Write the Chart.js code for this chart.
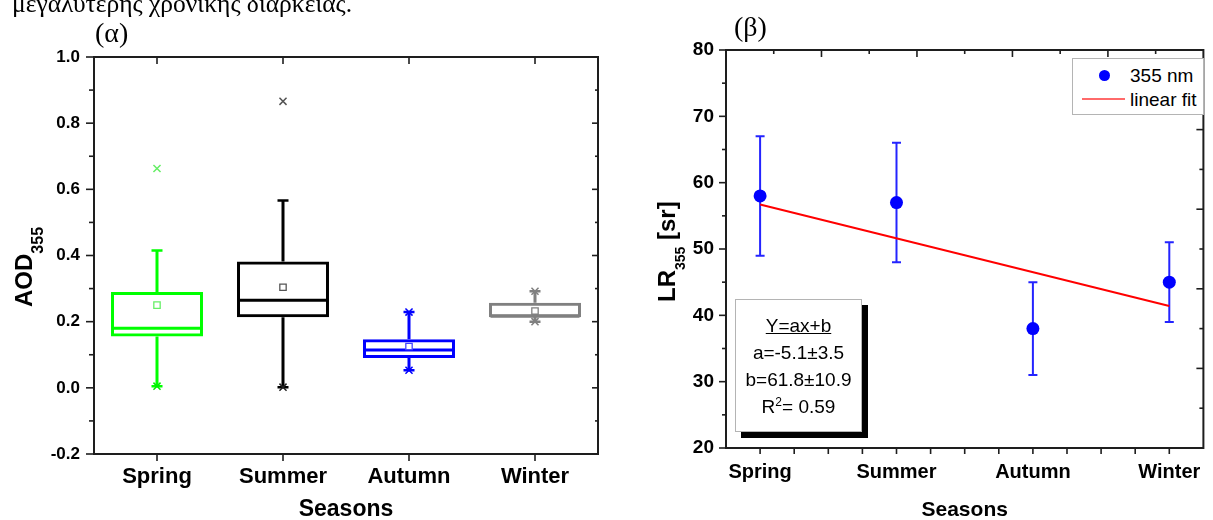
<!DOCTYPE html>
<html lang="el">
<head>
<meta charset="UTF-8">
<title>AOD355 and LR355 by season</title>
<script src="https://cdn.jsdelivr.net/npm/chart.js@4.4.1/dist/chart.umd.min.js"></script>
<style>
  html, body { margin: 0; padding: 0; background: #fff; }
  body { width: 1213px; height: 520px; position: relative; overflow: hidden;
         font-family: 'Liberation Sans', Arial, sans-serif; color: #000; }
  .abs { position: absolute; white-space: nowrap; line-height: 1; }
  .serif { font-family: 'Liberation Serif', 'Times New Roman', serif; }
  .ytitle { font-weight: bold; font-size: 24px; transform-origin: 0 0; transform: rotate(-90deg); }
  #boxWrap { position: absolute; left: 0; top: 0; width: 620px; height: 520px; }
  #lrWrap { position: absolute; left: 620px; top: 0; width: 593px; height: 520px; }
  #fitBox { position: absolute; left: 735px; top: 299px; width: 127px; height: 133px; box-sizing: border-box;
            border: 1px solid #b4b4b4; background: #fff; box-shadow: 6px 6px 0 #000;
            font-size: 19px; line-height: 27px; text-align: center; padding-top: 12px; }
  #fitBox sup { font-size: 12px; line-height: 0; vertical-align: 7px; }
  #legendBox { position: absolute; left: 1072px; top: 58px; width: 132px; height: 57px; box-sizing: border-box;
               border: 1px solid #b4b4b4; background: #fff; }
</style>
</head>
<body>
    <div id="boxWrap"><canvas id="boxChart"></canvas></div>
    <div id="lrWrap"><canvas id="lrChart"></canvas></div>

    <!-- captions -->
    <div class="abs serif" style="left:12px; top:-9.5px; font-size:25.5px;">μεγαλύτερης χρονικής διάρκειας.</div>
    <div class="abs serif" style="left:95px; top:18.5px; font-size:28px;">(α)</div>
    <div class="abs serif" style="left:734px; top:13px; font-size:28px;">(β)</div>

    <!-- y axis titles (subscripts) -->
    <div class="abs ytitle" style="left:11.7px; top:307px;">AOD<span style="font-size:16px; vertical-align:-11px;">355</span></div>
    <div class="abs ytitle" style="left:654.7px; top:302px;">LR<span style="font-size:14px; vertical-align:-10px;">355</span> [sr]</div>

    <!-- fit parameters -->
    <div id="fitBox">
        <div><u>Y=ax+b</u></div>
        <div>a=-5.1±3.5</div>
        <div>b=61.8±10.9</div>
        <div>R<sup>2</sup>= 0.59</div>
    </div>

    <!-- legend -->
    <div id="legendBox"></div>
    <span class="abs" style="left:1098.5px; top:69.5px; width:11px; height:11px; border-radius:50%; background:#0000ff;"></span>
    <div class="abs" style="left:1130px; top:65.6px; font-size:19px;">355 nm</div>
    <span class="abs" style="left:1082px; top:98px; width:43px; height:2px; background:#ff6a6a;"></span>
    <div class="abs" style="left:1130px; top:90px; font-size:19px;">linear fit</div>

    <script>
        const seasons = ['Spring', 'Summer', 'Autumn', 'Winter'];

        // (α) AOD355 box plot
        const aodQ1 = [0.155, 0.213, 0.090, 0.213];
        const aodMedian = [0.180, 0.265, 0.114, 0.216];
        const aodQ3 = [0.290, 0.382, 0.147, 0.257];
        const aodMean = [0.250, 0.304, 0.125, 0.232];
        const aodWhiskLow = [0.005, 0.002, 0.053, 0.200];
        const aodWhiskHigh = [0.415, 0.566, 0.229, 0.292];
        const aodCrossSeason = ['Spring', 'Spring', 'Summer', 'Summer', 'Autumn', 'Autumn', 'Winter', 'Winter'];
        const aodCrossValue = [0.663, 0.005, 0.866, 0.002, 0.229, 0.053, 0.292, 0.200];
        const aodTicks = [-0.2, 0.0, 0.2, 0.4, 0.6, 0.8, 1.0];

        // (β) LR355 with error bars and linear fit
        const lrValue = [58, 57, 38, 45];
        const lrErrLow = [49, 48, 31, 39];
        const lrErrHigh = [67, 66, 45, 51];
        const fitX = [1, 4];
        const fitY = [56.7, 41.4];
        const lrTicks = [20, 30, 40, 50, 60, 70, 80];

        // styles
        const boxColors = ['#00ff00', '#000000', '#0000ff', '#808080'];
        const meanColors = ['#66ee66', '#555555', '#4444ff', '#808080'];
        const crossColors = ['#66ee66', '#00ee00', '#555555', '#222222', '#0000ff', '#0000ff', '#808080', '#808080'];

        Chart.defaults.font.family = "'Liberation Sans', Arial, sans-serif";
        Chart.defaults.color = '#000';

        const mid = arr => arr.slice(1).map((v, i) => (v + arr[i]) / 2);

        // frame round the plot area plus tick marks (in/out) through the scales
        const framePlugin = {
            id: 'frame',
            afterDraw(chart, args, opts) {
                const { ctx, chartArea: a } = chart;
                ctx.save();
                ctx.strokeStyle = '#1e1e1e';
                ctx.lineWidth = 2;
                ctx.strokeRect(a.left, a.top, a.right - a.left, a.bottom - a.top);
                ctx.lineWidth = 1.6;
                (opts.marks || []).forEach(m => {
                    const sc = chart.scales[m.scale];
                    m.values.forEach(v => {
                        const p = sc.getPixelForValue(v);
                        const len = typeof m.len === 'function' ? m.len(v) : m.len;
                        ctx.beginPath();
                        if (m.side === 'left') { ctx.moveTo(a.left, p); ctx.lineTo(a.left + m.dir * len, p); }
                        if (m.side === 'right') { ctx.moveTo(a.right, p); ctx.lineTo(a.right + m.dir * len, p); }
                        if (m.side === 'bottom') { ctx.moveTo(p, a.bottom); ctx.lineTo(p, a.bottom + m.dir * len); }
                        if (m.side === 'top') { ctx.moveTo(p, a.top); ctx.lineTo(p, a.top + m.dir * len); }
                        ctx.stroke();
                    });
                });
                ctx.restore();
            }
        };

        // whiskers, caps and medians, drawn right after the boxes
        const boxExtras = {
            id: 'boxExtras',
            afterDatasetDraw(chart, args) {
                if (args.index !== 0) return;
                const { ctx } = chart;
                const x = chart.scales.x, y = chart.scales.y;
                const half = chart.getDatasetMeta(0).data[0].width / 2;
                ctx.save();
                seasons.forEach((s, i) => {
                    const cx = x.getPixelForValue(i);
                    ctx.strokeStyle = boxColors[i];
                    ctx.lineWidth = 3;
                    ctx.beginPath();
                    ctx.moveTo(cx, y.getPixelForValue(aodQ3[i]));
                    ctx.lineTo(cx, y.getPixelForValue(aodWhiskHigh[i]));
                    ctx.moveTo(cx, y.getPixelForValue(aodQ1[i]));
                    ctx.lineTo(cx, y.getPixelForValue(aodWhiskLow[i]));
                    ctx.moveTo(cx - half + 1.5, y.getPixelForValue(aodMedian[i]));
                    ctx.lineTo(cx + half - 1.5, y.getPixelForValue(aodMedian[i]));
                    ctx.stroke();
                    ctx.lineWidth = 2.5;
                    ctx.beginPath();
                    [aodWhiskHigh[i], aodWhiskLow[i]].forEach(v => {
                        const py = y.getPixelForValue(v);
                        ctx.moveTo(cx - 5.5, py);
                        ctx.lineTo(cx + 5.5, py);
                    });
                    ctx.stroke();
                });
                ctx.restore();
            }
        };

        // vertical error bars for the LR points
        const errorBars = {
            id: 'errorBars',
            beforeDatasetsDraw(chart) {
                const { ctx } = chart;
                const x = chart.scales.x, y = chart.scales.y;
                ctx.save();
                ctx.strokeStyle = '#2424ff';
                ctx.lineWidth = 2;
                lrValue.forEach((v, i) => {
                    const cx = x.getPixelForValue(i + 1);
                    const lo = y.getPixelForValue(lrErrLow[i]);
                    const hi = y.getPixelForValue(lrErrHigh[i]);
                    ctx.beginPath();
                    ctx.moveTo(cx, lo); ctx.lineTo(cx, hi);
                    ctx.moveTo(cx - 4.5, lo); ctx.lineTo(cx + 4.5, lo);
                    ctx.moveTo(cx - 4.5, hi); ctx.lineTo(cx + 4.5, hi);
                    ctx.stroke();
                });
                ctx.restore();
            }
        };

        // (α) box plot
        new Chart(document.getElementById('boxChart'), {
            type: 'bar',
            data: {
                labels: seasons,
                datasets: [
                    {
                        type: 'bar',
                        data: seasons.map((s, i) => [aodQ1[i], aodQ3[i]]),
                        backgroundColor: 'rgba(0,0,0,0)',
                        borderColor: boxColors,
                        borderWidth: 3,
                        borderSkipped: false,
                        barPercentage: 0.73,
                        categoryPercentage: 1,
                        order: 2
                    },
                    {
                        type: 'line',
                        data: aodMean,
                        showLine: false,
                        pointStyle: 'rect',
                        pointRadius: 4.5,
                        pointBackgroundColor: '#fff',
                        pointBorderColor: meanColors,
                        pointBorderWidth: 1.3,
                        order: 1
                    },
                    {
                        type: 'line',
                        data: aodCrossSeason.map((s, i) => ({ x: s, y: aodCrossValue[i] })),
                        showLine: false,
                        pointStyle: 'crossRot',
                        pointRadius: 5,
                        pointBorderColor: crossColors,
                        pointBorderWidth: 1.5,
                        order: 0
                    }
                ]
            },
            options: {
                responsive: true,
                maintainAspectRatio: false,
                animation: false,
                layout: { padding: { top: 57, right: 22, left: 0, bottom: 0 } },
                plugins: {
                    legend: { display: false },
                    tooltip: { enabled: false },
                    frame: {
                        marks: [
                            { scale: 'y', side: 'left', dir: -1, len: 8, values: aodTicks },
                            { scale: 'y', side: 'left', dir: -1, len: 5, values: mid(aodTicks) },
                            { scale: 'y', side: 'right', dir: -1, len: 6, values: aodTicks },
                            { scale: 'y', side: 'right', dir: -1, len: 3, values: mid(aodTicks) },
                            { scale: 'x', side: 'bottom', dir: 1, len: 7, values: [0, 1, 2, 3] },
                            { scale: 'x', side: 'top', dir: 1, len: 7, values: [0, 1, 2, 3] }
                        ]
                    }
                },
                scales: {
                    x: {
                        grid: { display: false, drawTicks: false },
                        border: { display: false },
                        ticks: { font: { size: 22, weight: 'bold' }, padding: 10, maxRotation: 0 },
                        title: {
                            display: true, text: 'Seasons',
                            font: { size: 23, weight: 'bold', lineHeight: 1 },
                            padding: { top: 0, bottom: -1 }
                        },
                        afterFit: s => { s.height = 66; }
                    },
                    y: {
                        min: -0.2, max: 1.0,
                        afterBuildTicks: s => { s.ticks = aodTicks.map(v => ({ value: v })); },
                        grid: { display: false, drawTicks: false },
                        border: { display: false },
                        ticks: { callback: v => v.toFixed(1), font: { size: 17, weight: 'bold' }, padding: 14 },
                        afterFit: s => { s.width = 94; }
                    }
                }
            },
            plugins: [boxExtras, framePlugin]
        });

        // (β) LR355 scatter with error bars and fit
        new Chart(document.getElementById('lrChart'), {
            type: 'scatter',
            data: {
                datasets: [
                    {
                        label: '355 nm',
                        data: lrValue.map((v, i) => ({ x: i + 1, y: v })),
                        pointRadius: 6.5,
                        pointBackgroundColor: '#0000ff',
                        pointBorderWidth: 0,
                        order: 0
                    },
                    {
                        label: 'linear fit',
                        data: fitX.map((v, i) => ({ x: v, y: fitY[i] })),
                        showLine: true,
                        borderColor: '#ff0000',
                        borderWidth: 2,
                        pointRadius: 0,
                        order: 1
                    }
                ]
            },
            options: {
                responsive: true,
                maintainAspectRatio: false,
                animation: false,
                layout: { padding: { top: 50, right: 3, left: 0, bottom: 0 } },
                plugins: {
                    legend: { display: false },
                    tooltip: { enabled: false },
                    frame: {
                        marks: [
                            { scale: 'y', side: 'left', dir: -1, len: 7, values: lrTicks },
                            { scale: 'y', side: 'left', dir: -1, len: 4, values: mid(lrTicks) },
                            { scale: 'x', side: 'bottom', dir: 1, len: 6,
                              values: [1, 1.25, 1.5, 1.75, 2, 2.25, 2.5, 2.75, 3, 3.25, 3.5, 3.75, 4] },
                            { scale: 'x2', side: 'top', dir: 1, len: v => (v % 2 === 0 ? 7 : 4),
                              values: [1, 2, 3, 4, 5, 6, 7, 8, 9] },
                            { scale: 'y2', side: 'right', dir: -1, len: v => (v % 2 === 0 ? 7 : 4),
                              values: [1, 2, 3, 4, 5, 6, 7, 8, 9] }
                        ]
                    }
                },
                scales: {
                    x: {
                        type: 'linear', min: 0.75, max: 4.25,
                        afterBuildTicks: s => { s.ticks = seasons.map((n, i) => ({ value: i + 1 })); },
                        grid: { display: false, drawTicks: false },
                        border: { display: false },
                        ticks: { callback: v => seasons[v - 1], font: { size: 20, weight: 'bold' }, padding: 12, maxRotation: 0 },
                        title: {
                            display: true, text: 'Seasons',
                            font: { size: 21, weight: 'bold', lineHeight: 1 },
                            padding: { top: 0, bottom: -1 }
                        },
                        afterFit: s => { s.height = 72; }
                    },
                    y: {
                        min: 20, max: 80,
                        afterBuildTicks: s => { s.ticks = lrTicks.map(v => ({ value: v })); },
                        grid: { display: false, drawTicks: false },
                        border: { display: false },
                        ticks: { font: { size: 19, weight: 'bold' }, padding: 12 },
                        afterFit: s => { s.width = 106; }
                    },
                    x2: { type: 'linear', position: 'top', min: 0, max: 10, display: false },
                    y2: { type: 'linear', position: 'right', min: 0, max: 10, display: false }
                }
            },
            plugins: [errorBars, framePlugin]
        });
    </script>
</body>
</html>
